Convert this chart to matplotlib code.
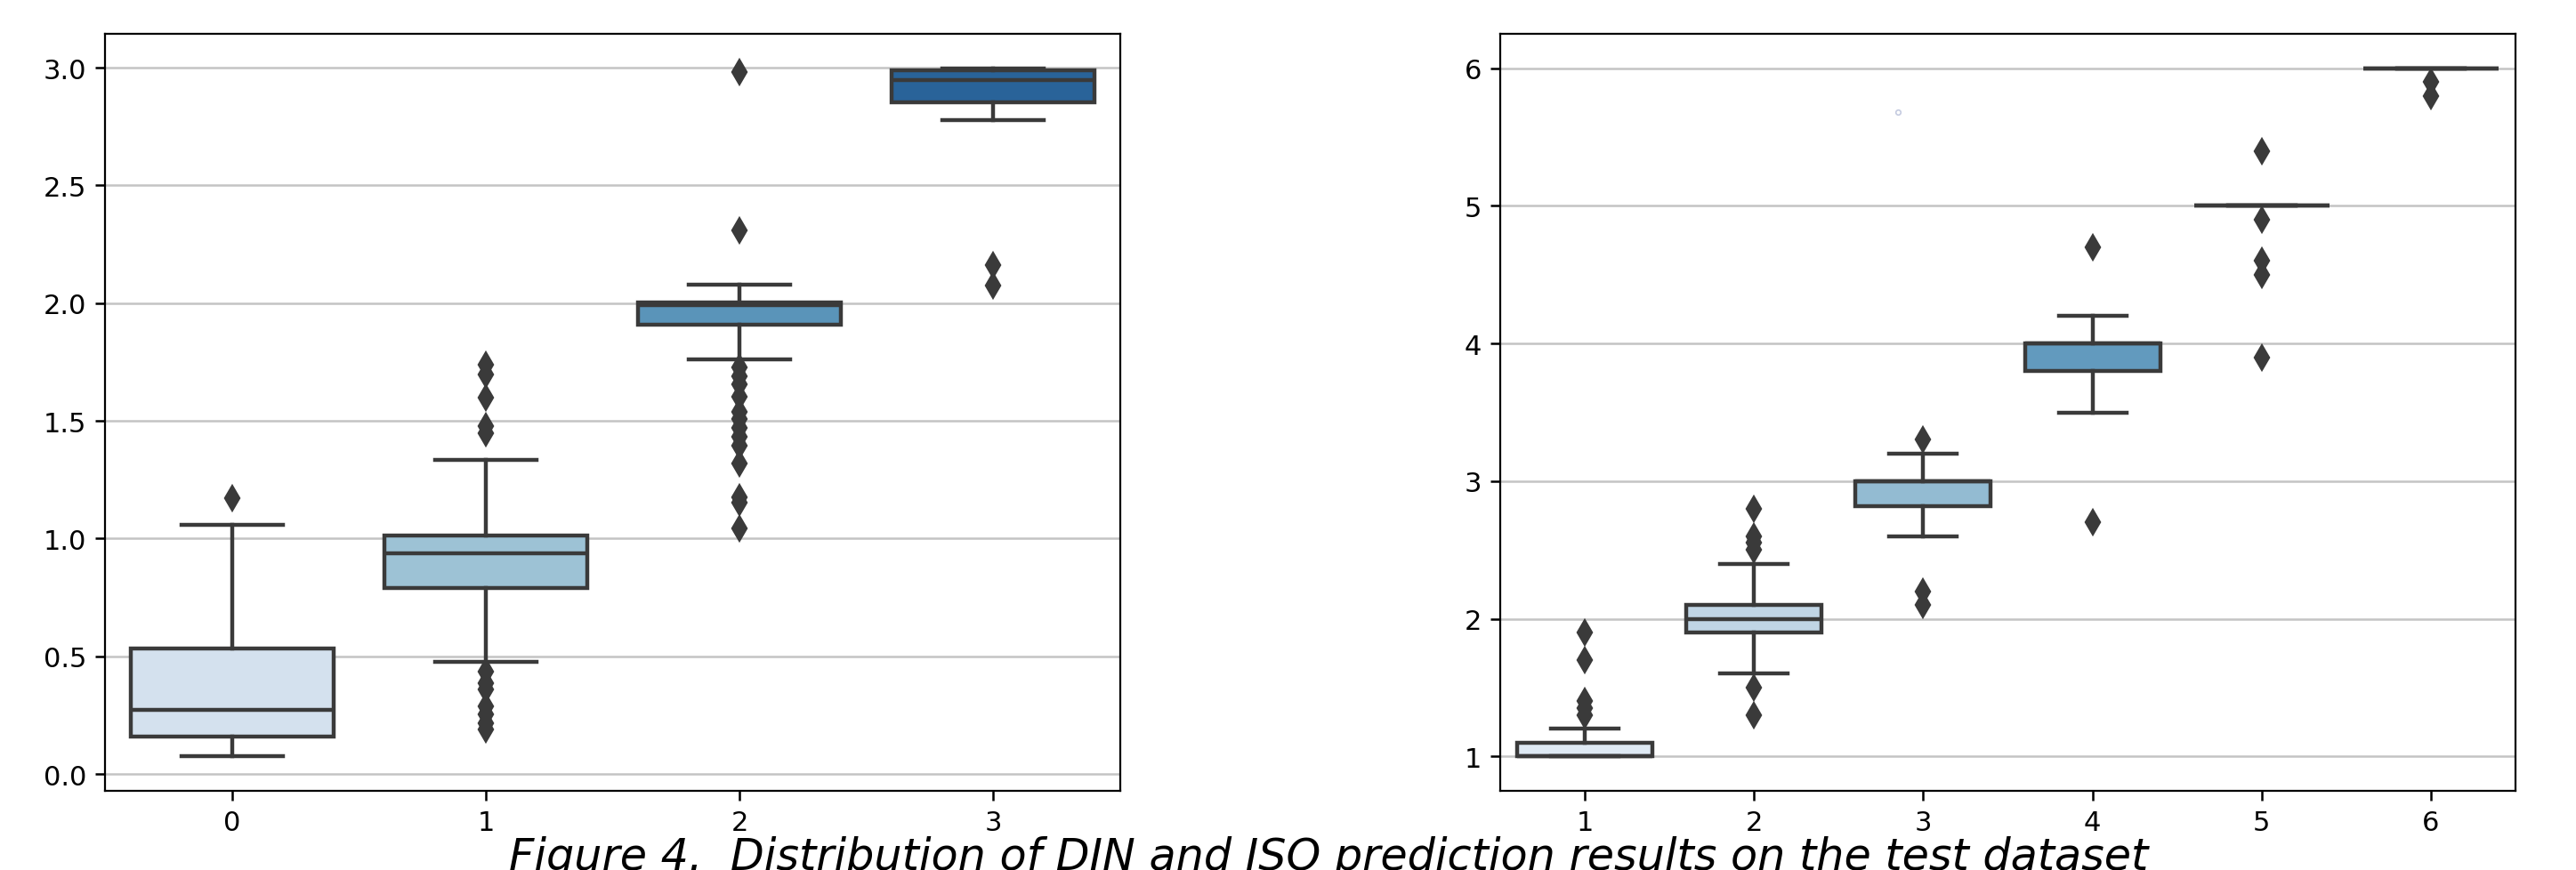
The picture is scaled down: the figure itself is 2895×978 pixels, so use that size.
import numpy as np
import matplotlib
matplotlib.use("Agg")
import matplotlib.pyplot as plt
import seaborn as sns

# left panel (DIN), box statistics
din_labels = ["0", "1", "2", "3"]
din_q1 = [0.16, 0.79, 1.91, 2.855]
din_med = [0.274, 0.936, 1.99, 2.946]
din_q3 = [0.535, 1.014, 2.002, 2.99]
din_whislo = [0.075, 0.476, 1.762, 2.778]
din_whishi = [1.059, 1.335, 2.08, 2.998]
din_fliers = [
    [1.172],
    [1.738, 1.698, 1.597, 1.479, 1.448, 0.434, 0.387, 0.358, 0.288, 0.252, 0.217, 0.189],
    [2.981, 2.311, 1.726, 1.691, 1.656, 1.604, 1.538, 1.509, 1.472, 1.432, 1.396,
     1.321, 1.177, 1.153, 1.042],
    [2.163, 2.075],
]

# right panel (ISO)
iso_labels = ["1", "2", "3", "4", "5", "6"]
iso_q1 = [1.0, 1.9, 2.82, 3.8, 5.0, 6.0]
iso_med = [1.0, 2.0, 3.0, 4.0, 5.0, 6.0]
iso_q3 = [1.1, 2.1, 3.0, 4.0, 5.0, 6.0]
iso_whislo = [1.0, 1.6, 2.6, 3.5, 5.0, 6.0]
iso_whishi = [1.2, 2.4, 3.2, 4.2, 5.0, 6.0]
iso_fliers = [
    [1.9, 1.7, 1.4, 1.35, 1.3],
    [2.8, 2.6, 2.55, 2.5, 1.5, 1.3],
    [3.3, 2.2, 2.1],
    [4.7, 2.7],
    [5.4, 4.9, 4.6, 4.5, 3.9],
    [5.9, 5.8],
]
# small stray circle visible in the right panel
stray_x = [1.85]
stray_y = [5.68]

caption = "Figure 4.  Distribution of DIN and ISO prediction results on the test dataset"

line_col = "#3a3a3a"
lw = 3.2


def make_stats(q1, med, q3, lo, hi, fl):
    stats = []
    for i in range(len(q1)):
        stats.append(dict(q1=q1[i], med=med[i], q3=q3[i], whislo=lo[i],
                          whishi=hi[i], fliers=fl[i]))
    return stats


def draw_panel(ax, stats, labels):
    n = len(stats)
    cols = [sns.desaturate(c, 0.75) for c in sns.color_palette("Blues", n)]
    ax.grid(axis="y", color="#c4c4c4", linewidth=1.8, zorder=0)
    ax.set_axisbelow(True)
    bp = ax.bxp(stats, positions=range(n), widths=0.8, capwidths=0.4,
                patch_artist=True, manage_ticks=False,
                boxprops=dict(edgecolor=line_col, linewidth=lw),
                whiskerprops=dict(color=line_col, linewidth=lw),
                capprops=dict(color=line_col, linewidth=lw),
                medianprops=dict(color=line_col, linewidth=lw),
                flierprops=dict(marker="d", markersize=12, markerfacecolor=line_col,
                                markeredgecolor=line_col, markeredgewidth=3.0,
                                linestyle="none"))
    for patch, c in zip(bp["boxes"], cols):
        patch.set_facecolor(c)
    ax.set_xticks(range(n))
    ax.set_xticklabels(labels)
    ax.set_xlim(-0.5, n - 0.5)
    ax.tick_params(labelsize=22, length=8, width=1.8, pad=7)
    for sp in ax.spines.values():
        sp.set_linewidth(1.6)


fig = plt.figure(figsize=(28.95, 9.79), dpi=100)
ax1 = fig.add_axes([118 / 2895, 89 / 979, 1141 / 2895, 851 / 979])
ax2 = fig.add_axes([1686 / 2895, 89 / 979, 1141 / 2895, 851 / 979])

draw_panel(ax1, make_stats(din_q1, din_med, din_q3, din_whislo, din_whishi, din_fliers), din_labels)
draw_panel(ax2, make_stats(iso_q1, iso_med, iso_q3, iso_whislo, iso_whishi, iso_fliers), iso_labels)
ax1.set_yticks([0.0, 0.5, 1.0, 1.5, 2.0, 2.5, 3.0])
ax1.set_yticklabels(["0.0", "0.5", "1.0", "1.5", "2.0", "2.5", "3.0"])

ax2.plot(stray_x, stray_y, "o", ms=4, mfc="none", mec="#c5cbe0", mew=1.2)

fig.text(1493 / 2895, 1 / 979, caption, ha="center", va="baseline",
         fontsize=35.5, style="italic", family="DejaVu Sans")

fig.savefig("out.png", dpi=100)
